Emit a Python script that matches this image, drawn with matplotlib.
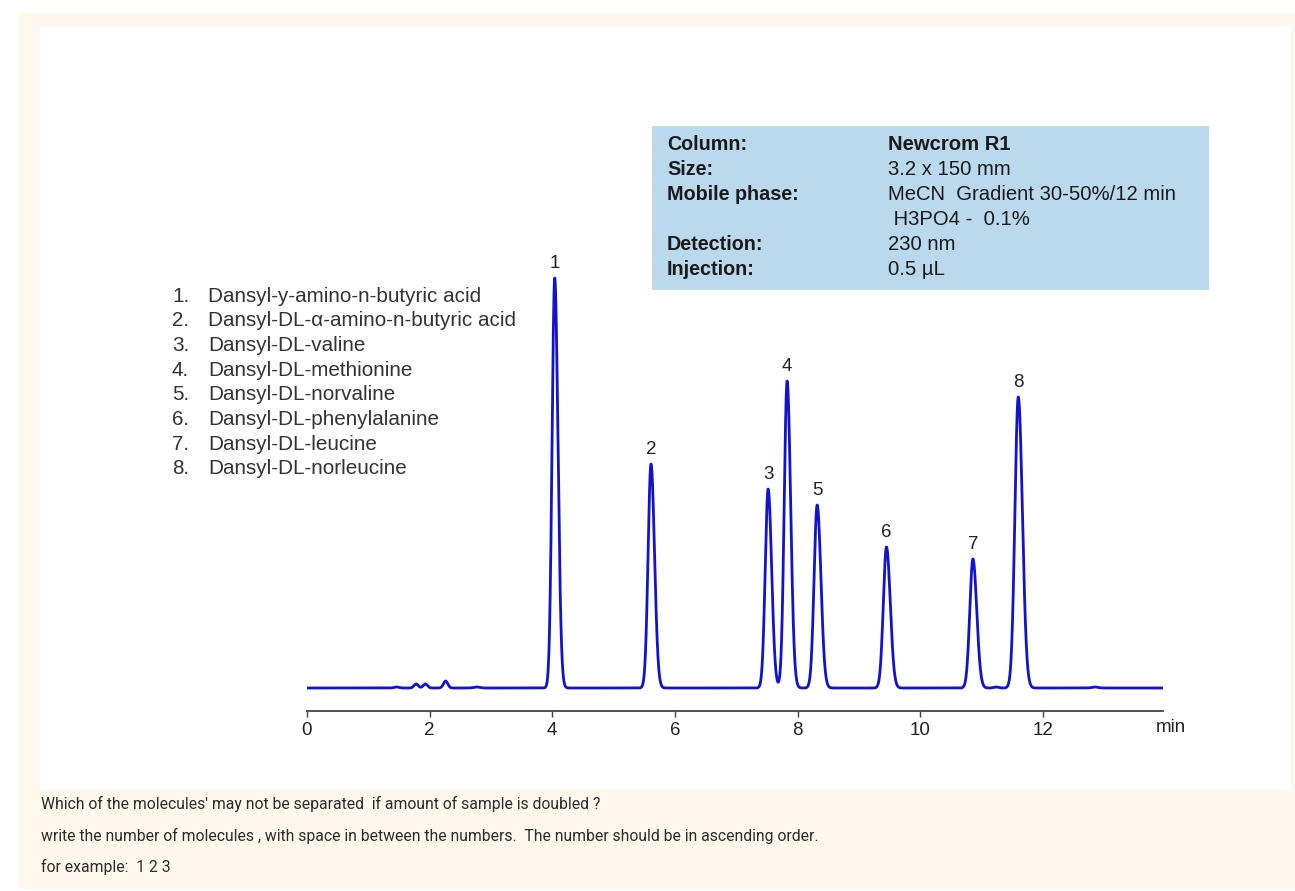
import matplotlib
matplotlib.use('Agg')
import matplotlib.pyplot as plt
import numpy as np
from matplotlib.patches import Rectangle, FancyBboxPatch

# ---------------- data ----------------
peak_labels = ['1', '2', '3', '4', '5', '6', '7', '8']
peak_times = [4.04, 5.61, 7.52, 7.83, 8.32, 9.45, 10.86, 11.60]
peak_heights = [410, 224, 199, 307, 183, 141, 129, 291]
peak_sigmas = [0.043, 0.047, 0.047, 0.047, 0.050, 0.051, 0.051, 0.055]

bump_times = [1.46, 1.78, 1.93, 2.26, 2.77, 11.24, 12.85]
bump_heights = [1.0, 4.0, 4.0, 7.0, 1.0, 1.0, 1.0]
bump_sigmas = [0.04, 0.035, 0.035, 0.035, 0.05, 0.04, 0.05]

x_ticks = [0, 2, 4, 6, 8, 10, 12]
x_max = 13.96

compounds = [
    'Dansyl-y-amino-n-butyric acid',
    'Dansyl-DL-\u03b1-amino-n-butyric acid',
    'Dansyl-DL-valine',
    'Dansyl-DL-methionine',
    'Dansyl-DL-norvaline',
    'Dansyl-DL-phenylalanine',
    'Dansyl-DL-leucine',
    'Dansyl-DL-norleucine',
]

info_keys = ['Column:', 'Size:', 'Mobile phase:', '', 'Detection:', 'Injection:']
info_values = ['Newcrom R1', '3.2 x 150 mm', 'MeCN  Gradient 30-50%/12 min',
               ' H3PO4 -  0.1%', '230 nm', '0.5 \u00b5L']

question_lines = [
    "Which of the molecules' may not be separated  if amount of sample is doubled ?",
    "write the number of molecules , with space in between the numbers.  The number should be in ascending order.",
    "for example:  1 2 3",
]

# ---------------- figure ----------------
W, H = 1295, 891
fig = plt.figure(figsize=(W / 100, H / 100), dpi=100)
fig.patch.set_facecolor('white')


def fx(x):
    return x / W


def fy(y):
    return 1 - y / H


fig.patches.append(FancyBboxPatch((fx(19), fy(889)), fx(1300) - fx(19), fy(13) - fy(889),
                                  boxstyle='round,pad=0,rounding_size=0.005',
                                  transform=fig.transFigure, fc='#fef7eb', ec='none', zorder=-3))
fig.patches.append(Rectangle((fx(40), fy(790)), fx(1291) - fx(40), fy(26) - fy(790),
                             transform=fig.transFigure, fc='white', ec='none', zorder=-2))

# info box
fig.patches.append(Rectangle((fx(652), fy(290)), fx(1209) - fx(652), fy(126) - fy(290),
                             transform=fig.transFigure, fc='#bad9ed', ec='none', zorder=-1))

font = 'Liberation Sans'
for i, (k, v) in enumerate(zip(info_keys, info_values)):
    yy = fy(145 + i * 24.8)
    fig.text(fx(667), yy, k, fontsize=14.2, fontweight='bold', family=font,
             color='#1a1a1a', va='center', ha='left', zorder=2)
    fig.text(fx(888), yy, v, fontsize=14.6, family=font,
             fontweight='bold' if i == 0 else 'normal',
             color='#1a1a1a', va='center', ha='left', zorder=2)

# compound list
for i, name in enumerate(compounds):
    yy = fy(296 + i * 24.7)
    fig.text(fx(172), yy, f'{i + 1}.', fontsize=14.9, family=font, color='#333333',
             va='center', ha='left')
    fig.text(fx(208), yy, name, fontsize=14.9, family=font, color='#333333',
             va='center', ha='left')

# question text
for i, line in enumerate(question_lines):
    fig.text(fx(41), fy(804 + i * 31.5), line, fontsize=11.3, family='Roboto',
             color='#2b2b2b', va='center', ha='left')

# ---------------- chromatogram ----------------
ax = fig.add_axes([fx(307), fy(711), fx(1163) - fx(307), fy(200) - fy(711)])
ax.set_facecolor('none')
ax.set_zorder(5)

t = np.linspace(0, x_max, 8000)
signal = np.zeros_like(t)
for tr, h, s in zip(peak_times, peak_heights, peak_sigmas):
    sig = np.where(t < tr, s, s * 1.22)
    signal += h * np.exp(-0.5 * ((t - tr) / sig) ** 2)
for tr, h, s in zip(bump_times, bump_heights, bump_sigmas):
    signal += h * np.exp(-0.5 * ((t - tr) / s) ** 2)

ax.plot(t, signal, color='#1212d2', lw=2.0, solid_joinstyle='round')

for lab, tr, h in zip(peak_labels, peak_times, peak_heights):
    ax.annotate(lab, (tr, h), xytext=(0, 4), textcoords='offset points',
                ha='center', va='bottom', fontsize=13.5, family=font, color='#222222')

ax.set_xlim(0, x_max)
ax.set_ylim(-23, 488)
for side in ['left', 'right', 'top']:
    ax.spines[side].set_visible(False)
ax.spines['bottom'].set_color('#444444')
ax.spines['bottom'].set_linewidth(1.3)
ax.set_yticks([])
ax.set_xticks(x_ticks)
ax.set_xticklabels([str(v) for v in x_ticks], family=font)
ax.tick_params(axis='x', direction='out', length=4, width=1, color='#444444',
               labelsize=13.5, pad=4, labelcolor='#222222')

fig.text(fx(1171), fy(728), 'min', fontsize=13.5, family=font, color='#222222',
         ha='center', va='center')

fig.savefig('out.png', dpi=100)
